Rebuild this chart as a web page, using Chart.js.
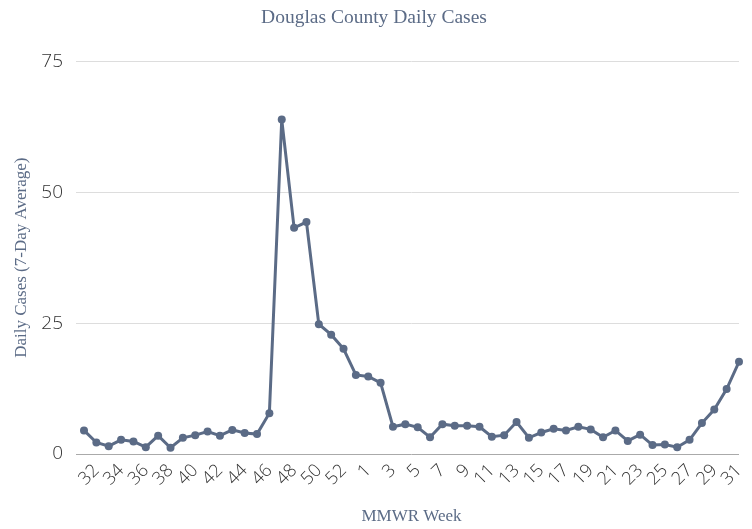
<!DOCTYPE html>
<html>
<head>
<meta charset="utf-8">
<script src="https://cdn.jsdelivr.net/npm/chart.js@4/dist/chart.umd.min.js"></script>
<style>
  html, body { margin: 0; padding: 0; background: #fff; }
  #wrap { width: 752px; height: 529px; }
</style>
</head>
<body>
<div id="wrap"><canvas id="canvas" width="752" height="529"></canvas></div>
<script>
// MMWR weeks, 2020 week 31 through 2021 week 31
const weeks2020 = [31, 32, 33, 34, 35, 36, 37, 38, 39, 40, 41, 42, 43, 44, 45, 46, 47, 48, 49, 50, 51, 52, 53];
const weeks2021 = [1, 2, 3, 4, 5, 6, 7, 8, 9, 10, 11, 12, 13, 14, 15, 16, 17, 18, 19, 20, 21, 22, 23, 24, 25, 26, 27, 28, 29, 30, 31];
const weekLabels = weeks2020.concat(weeks2021).map(String);

const dailyCases = [
  4.5, 2.2, 1.5, 2.7, 2.4, 1.3, 3.5, 1.2, 3.1, 3.6, 4.3, 3.5, 4.6, 4.0, 3.8, 7.8,
  63.9, 43.2, 44.3, 24.8, 22.8, 20.1, 15.1, 14.8, 13.6, 5.2, 5.7, 5.1, 3.2,
  5.7, 5.4, 5.4, 5.2, 3.3, 3.6, 6.1, 3.1, 4.1, 4.8, 4.5, 5.2, 4.7,
  3.2, 4.5, 2.5, 3.7, 1.7, 1.8, 1.3, 2.7, 5.9, 8.5, 12.4, 17.6
];

const yTicks = [0, 25, 50, 75];

const slate = '#5b6b86';
const tickFont = { family: "'Open Sans', 'Noto Sans', sans-serif", size: 19, weight: 300 };
const serif = "'Liberation Serif', 'DejaVu Serif', serif";

new Chart(document.getElementById('canvas').getContext('2d'), {
  type: 'line',
  data: {
    labels: weekLabels,
    datasets: [{
      label: 'Daily Cases',
      data: dailyCases,
      borderColor: slate,
      backgroundColor: slate,
      borderWidth: 3,
      pointRadius: 4,
      pointBorderWidth: 0,
      tension: 0,
      fill: false
    }]
  },
  options: {
    responsive: false,
    animation: false,
    layout: { padding: { left: 0, right: 4, top: 0, bottom: 0 } },
    plugins: {
      legend: { display: false },
      tooltip: { enabled: false },
      title: {
        display: true,
        text: 'Douglas County Daily Cases',
        color: slate,
        font: { family: serif, size: 19.5, weight: 'normal' },
        padding: { top: 6, bottom: 32 }
      }
    },
    scales: {
      x: {
        grid: { display: false, drawTicks: false },
        border: { display: false },
        afterFit: (scale) => { scale.height = 75; scale.paddingRight = 13; scale.paddingLeft = 0; },
        ticks: {
          autoSkip: false,
          maxRotation: 45,
          minRotation: 45,
          color: '#333',
          font: Object.assign({}, tickFont, { size: 18 }),
          padding: 6,
          callback: function (val, i) { return i % 2 === 1 ? this.getLabelForValue(val) : ''; }
        },
        title: {
          display: true,
          text: 'MMWR Week',
          color: slate,
          font: { family: serif, size: 17 },
          padding: { top: 4, bottom: 2 }
        }
      },
      y: {
        min: 0,
        max: 75,
        afterBuildTicks: (axis) => { axis.ticks = yTicks.map(v => ({ value: v })); },
        afterFit: (scale) => { scale.width = 84; },
        grid: {
          color: (ctx) => ctx.tick && ctx.tick.value === 0 ? '#aaa' : '#ddd',
          lineWidth: 1,
          tickLength: 8
        },
        border: { display: false },
        ticks: { color: '#333', font: tickFont, padding: 13 },
        title: {
          display: true,
          text: 'Daily Cases (7-Day Average)',
          color: slate,
          font: { family: serif, size: 17 },
          padding: { top: 11, bottom: 0 }
        }
      }
    }
  }
});
</script>
</body>
</html>
